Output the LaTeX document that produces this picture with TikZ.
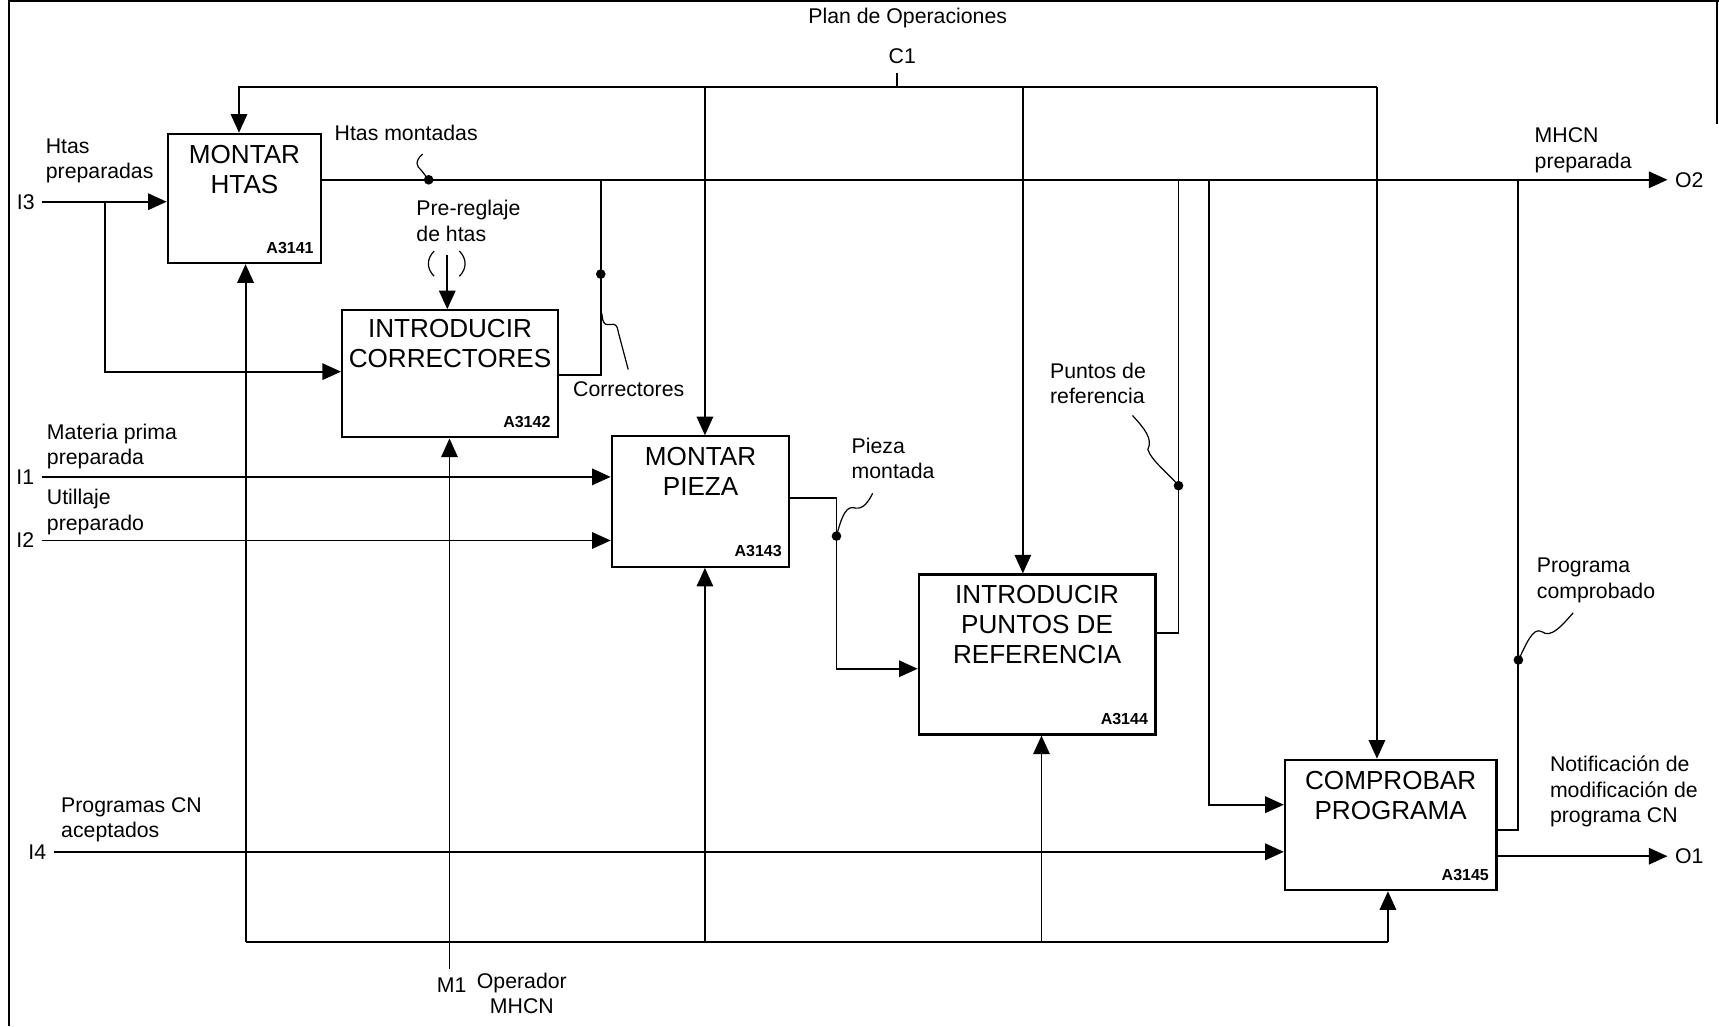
\documentclass[tikz,border=0pt]{standalone}
\usepackage{fontspec}
\setmainfont{Liberation Sans}
\usetikzlibrary{arrows.meta}
\begin{document}
\begin{tikzpicture}[x=0.5pt,y=-0.5pt,
  line width=0.85pt,
  arr/.style={-{Triangle[length=8.5pt,width=7.5pt]}},
  fn/.style={draw,line width=0.95pt,inner sep=0pt},
  title/.style={font=\fontsize{11.9}{13.75}\selectfont,align=center,inner sep=0pt},
  tag/.style={font=\fontsize{7.3}{8}\selectfont\bfseries,inner sep=0pt,anchor=south east,xshift=-3.5pt,yshift=4.5pt},
  lbl/.style={font=\fontsize{9.7}{11.5}\selectfont,align=left,inner sep=0pt,anchor=west},
  term/.style={font=\fontsize{9.7}{11.5}\selectfont,inner sep=3pt},
  dot/.style={circle,fill,inner sep=0pt,minimum size=4.4pt},
  lead/.style={line width=0.55pt},
]
\useasboundingbox (0,0) rectangle (1568,936);

% sheet frame
\draw[line width=0.9pt] (8,936) -- (8,1) -- (1568,1);
\draw (1566,1) -- (1566,113);

% activity boxes
\node[fn,minimum width=70pt,minimum height=59pt]   (b1) at (223,181) {};
\node[fn,minimum width=98.5pt,minimum height=58pt] (b2) at (410.5,341) {};
\node[fn,minimum width=81pt,minimum height=59.5pt] (b3) at (639,457.5) {};
\node[fn,minimum width=108pt,minimum height=73pt]  (b4) at (946,597) {};
\node[fn,minimum width=96.5pt,minimum height=59.5pt] (b5) at (1268.5,752.5) {};

\node[title] (t1) at (223,154.5) {MONTAR\\HTAS};
\node[title] (t2) at (410.5,313) {INTRODUCIR\\CORRECTORES};
\node[title] (t3) at (639,430) {MONTAR\\PIEZA};
\node[title] (t4) at (946,569.5) {INTRODUCIR\\PUNTOS DE\\REFERENCIA};
\node[title] (t5) at (1268.5,726) {COMPROBAR\\PROGRAMA};

\node[tag] (id1) at (b1.south east) {A3141};
\node[tag] (id2) at (b2.south east) {A3142};
\node[tag] (id3) at (b3.south east) {A3143};
\node[tag] (id4) at (b4.south east) {A3144};
\node[tag] (id5) at (b5.south east) {A3145};

% control C1
\node[lbl,anchor=center] (plan) at (828,16) {Plan de Operaciones};
\node[term,inner sep=0pt] (c1) at (823,51) {C1};
\coordinate (cj) at (818,79);
\draw ([yshift=-4pt]c1.south -| cj) -- (cj);
\coordinate (cl) at (218,79);
\coordinate (cr) at (1256,79);
\coordinate (c3) at (643,79);
\coordinate (c4) at (933,79);
\draw[arr] (cr) -- (cl) -- (cl |- b1.north);
\draw[arr] (cr) -- (cr |- b5.north);
\draw[arr] (c3) -- (c3 |- b3.north);
\draw[arr] (c4) -- (c4 |- b4.north);

% output O2 and the branches feeding it
\node[term,anchor=west] (o2l) at (1521,164) {O2};
\draw[arr] (b1.east |- o2l.west) -- (o2l.west);
\node[dot] (d1) at (391,164) {};
\coordinate (s1) at (385.5,140.5);
\draw[lead] (s1) .. controls (378,147) and (380,152) .. (384,155) -- (d1.center);
\node[lbl,anchor=center] (hm) at (370.5,121) {Htas montadas};

\coordinate (kc) at (548,164);
\draw (b2.east |- 0,342) -| (kc);
\node[dot] (d2) at (548,250) {};
\coordinate (s2) at (573,337);
\draw[lead] (549,286) .. controls (550,297) and (552,296) .. (556,296)
  .. controls (562,295) and (563,297) .. (564,303) -- (s2);
\node[lbl,anchor=center] (cor) at (573.5,355) {Correctores};

\coordinate (kp) at (1075,164);
\draw (b4.east |- 0,577) -| (kp);
\node[dot] (d4) at (1075,443) {};
\coordinate (s4) at (1033,379);
\draw[lead] (s4) .. controls (1043,390) and (1052,400) .. (1047,410)
  .. controls (1050,420) and (1066,432) .. (d4.center);
\node[lbl] (pdr) at (957,349.5) {Puntos de\\referencia};

\coordinate (kq) at (1103,164);
\draw[arr] (kq) |- (b5.west |- 0,734);

\coordinate (kr) at (1385,164);
\draw (b5.east |- 0,757) -| (kr);
\node[dot] (d5) at (1385,602) {};
\coordinate (s5) at (1435,559);
\draw[lead] (d5.center) .. controls (1392,588) and (1398,572) .. (1406,576)
  .. controls (1415,583) and (1425,570) .. (s5);
\node[lbl] (pc) at (1401,529.5) {Programa\\comprobado};
\node[lbl] (mp) at (1399,137) {MHCN\\preparada};

% output O1
\node[term,anchor=west] (o1l) at (1521,781) {O1};
\draw[arr] (b5.east |- o1l.west) -- (o1l.west);
\node[lbl] (nt) at (1413,722) {Notificación de\\modificación de\\programa CN};

% tunnelled control into A3142
\coordinate (pr) at (408,233);
\draw[arr] (pr) -- (pr |- b2.north);
\draw[lead] (396,229) .. controls (389,236) and (389,245) .. (396,252);
\draw[lead] (419,229) .. controls (426,236) and (426,245) .. (419,252);
\node[lbl] (prl) at (379,201.5) {Pre-reglaje\\de htas};

% piece mounted feeding A3144
\coordinate (pm) at (763,454);
\draw[arr] (b3.east |- pm) -- (pm) -- (pm |- 0,610) -- (b4.west |- 0,610);
\node[dot] (d3) at (763,489) {};
\coordinate (s3) at (796,450);
\draw[lead] (d3.center) .. controls (766,478) and (770,462) .. (778,463)
  .. controls (785,465) and (790,462) .. (s3);
\node[lbl] (pml) at (776,418) {Pieza\\montada};

% inputs
\node[term] (i3) at (23.5,184) {I3};
\draw[arr] (i3.east) -- (b1.west |- i3.east);
\coordinate (j3) at (96,184);
\draw[arr] (j3) |- (b2.west |- 0,339);
\node[lbl] (hp) at (41,146.5) {Htas\\preparadas};

\node[term] (i1) at (23,435) {I1};
\draw[arr] (i1.east) -- (b3.west |- i1.east);
\node[lbl] (mpp) at (42,407.5) {Materia prima\\preparada};

\node[term] (i2) at (23,493) {I2};
\draw[arr] (i2.east) -- (b3.west |- i2.east);
\node[lbl] (up) at (42,467) {Utillaje\\preparado};

\node[term] (i4) at (34,777) {I4};
\draw[arr] (i4.east) -- (b5.west |- i4.east);
\node[lbl] (pca) at (55,747.5) {Programas CN\\aceptados};

% mechanism M1
\node[term,inner sep=0pt] (m1) at (412,899) {M1};
\coordinate (m1t) at (410,884);
\draw[arr] (m1t) -- (m1t |- b2.south);
\node[lbl,align=center,anchor=center] (op) at (476,906) {Operador\\MHCN};
\coordinate (mb1) at (224,859);
\coordinate (mb3) at (643,859);
\coordinate (mb4) at (950,859);
\coordinate (mb5) at (1266,859);
\draw (mb1) -- (mb5);
\draw[arr] (mb1) -- (mb1 |- b1.south);
\draw[arr] (mb3) -- (mb3 |- b3.south);
\draw[arr] (mb4) -- (mb4 |- b4.south);
\draw[arr] (mb5) -- (mb5 |- b5.south);
\end{tikzpicture}
\end{document}
